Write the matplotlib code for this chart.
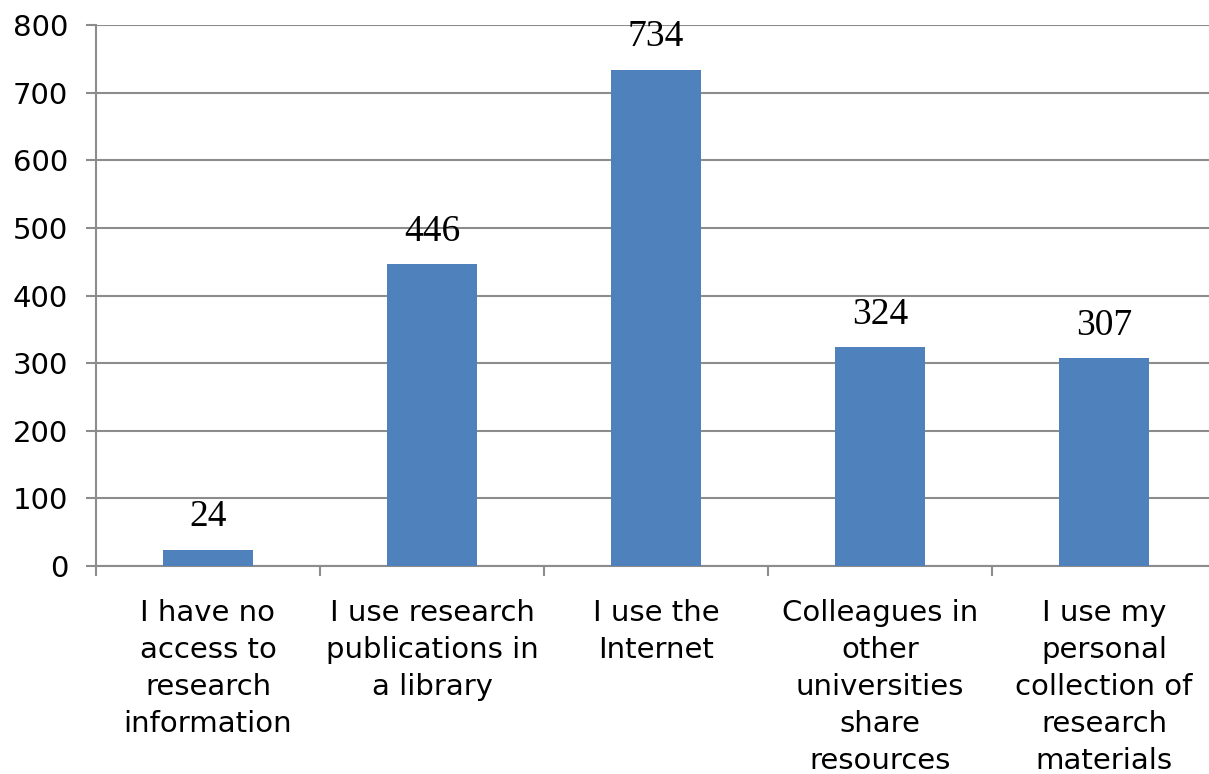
import matplotlib
matplotlib.use("Agg")
import matplotlib.pyplot as plt
import numpy as np

categories = [
    "I have no\naccess to\nresearch\ninformation",
    "I use research\npublications in\na library",
    "I use the\nInternet",
    "Colleagues in\nother\nuniversities\nshare\nresources",
    "I use my\npersonal\ncollection of\nresearch\nmaterials",
]
counts = [24, 446, 734, 324, 307]
y_ticks = [0, 100, 200, 300, 400, 500, 600, 700, 800]

W, H = 1209, 774
fig = plt.figure(figsize=(W / 100, H / 100), dpi=100)
# plot area spans past the right edge so the last category sits like the original export
ax = fig.add_axes([96 / W, 1 - 566 / H, 1120 / W, 541 / H])

x = np.arange(len(categories))
ax.bar(x, counts, width=0.4, color="#4F81BD", zorder=3)

for xi, v in zip(x, counts):
    ax.annotate(str(v), (xi, v), xytext=(0, 11), textcoords="offset points",
                ha="center", va="bottom", fontsize=27, family="Liberation Serif")

ax.set_xlim(-0.5, len(categories) - 0.5)
ax.set_ylim(0, 800)
ax.set_yticks(y_ticks)
ax.set_yticklabels([str(t) for t in y_ticks], fontsize=21)
ax.yaxis.grid(True, color="#8c8c8c", linewidth=1.5, zorder=0)

# category labels centred under bars, tick marks on the category boundaries
ax.set_xticks(x)
ax.set_xticklabels(categories, fontsize=21, linespacing=1.41, va="top")
ax.tick_params(axis="x", which="major", length=0, pad=24)
ax.set_xticks(np.arange(-0.5, len(categories)), minor=True)
ax.tick_params(axis="x", which="minor", length=7, width=1.5, color="#8c8c8c")
ax.tick_params(axis="y", length=7, width=1.5, color="#8c8c8c", pad=13)

for side in ["top", "right"]:
    ax.spines[side].set_visible(False)
for side in ["left", "bottom"]:
    ax.spines[side].set_color("#8c8c8c")
    ax.spines[side].set_linewidth(1.5)

fig.savefig("out.png", dpi=100)
